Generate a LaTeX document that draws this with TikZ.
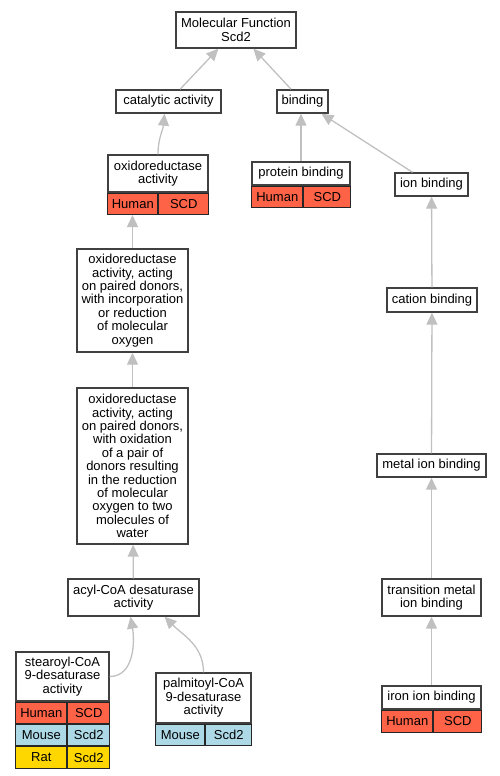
\documentclass[tikz,border=0pt]{standalone}
\usepackage{fontspec}
\setmainfont{Liberation Sans}
\usetikzlibrary{arrows.meta,positioning}
\definecolor{humanred}{HTML}{FF6347}
\definecolor{mouseblue}{HTML}{ADD8E6}
\definecolor{ratgold}{HTML}{FFD700}
\definecolor{edgegray}{HTML}{C0C0C0}
\definecolor{framegray}{HTML}{404040}

\begin{document}
\begin{tikzpicture}[
  x=1pt, y=-1pt,
  font=\fontsize{13}{13.4}\selectfont,
  term/.style={draw=framegray, line width=1.4pt, fill=white, align=center,
               inner sep=0pt},
  cell/.style={draw=black!85, line width=1pt, inner sep=0pt, anchor=north west,
               minimum height=21.3pt},
  arr/.style={-{Triangle[length=12pt, width=11pt, fill=edgegray]}, draw=edgegray,
              line width=1.3pt}
]
\useasboundingbox (0,0) rectangle (500,776);

% top of the tree
\node[term, minimum width=120pt, minimum height=36pt] (mf) at (236,30) {Molecular Function\\Scd2};
\node[term, minimum width=105pt, minimum height=23pt] (cat) at (168.5,101.5) {catalytic activity};
\node[term, minimum width=51pt, minimum height=23pt] (bind) at (302.5,101.5) {binding};

% catalytic branch
\node[term, minimum width=100pt, minimum height=37pt] (oxr) at (158,173.5) {oxidoreductase\\activity};
\node[cell, fill=humanred, minimum width=50pt] (oxrH) at (oxr.south west) {Human};
\node[cell, fill=humanred, minimum width=50pt] (oxrS) at (oxrH.north east) {SCD};
\node[term, minimum width=111pt, minimum height=103pt] (oxpa) at (132.5,300.5)
  {oxidoreductase\\activity, acting\\on paired donors,\\with incorporation\\or reduction\\of molecular\\oxygen};
\node[term, minimum width=111pt, minimum height=156pt] (oxpb) at (132.5,466)
  {oxidoreductase\\activity, acting\\on paired donors,\\with oxidation\\of a pair of\\donors resulting\\in the reduction\\of molecular\\oxygen to two\\molecules of\\water};
\node[term, minimum width=131pt, minimum height=37pt] (acyl) at (133.5,597.5) {acyl-CoA desaturase\\activity};

\node[term, minimum width=93pt, minimum height=49pt] (stear) at (62.5,676.5) {stearoyl-CoA\\9-desaturase\\activity};
\node[cell, fill=humanred, minimum width=51pt] (stearH) at (stear.south west) {Human};
\node[cell, fill=humanred, minimum width=42pt] (stearS) at (stearH.north east) {SCD};
\node[cell, fill=mouseblue, minimum width=51pt] (stearM) at (stearH.south west) {Mouse};
\node[cell, fill=mouseblue, minimum width=42pt] (stearMs) at (stearM.north east) {Scd2};
\node[cell, fill=ratgold, minimum width=51pt] (stearR) at (stearM.south west) {Rat};
\node[cell, fill=ratgold, minimum width=42pt] (stearRs) at (stearR.north east) {Scd2};

\node[term, minimum width=95pt, minimum height=50pt] (palm) at (203.5,698) {palmitoyl-CoA\\9-desaturase\\activity};
\node[cell, fill=mouseblue, minimum width=49pt] (palmM) at (palm.south west) {Mouse};
\node[cell, fill=mouseblue, minimum width=46pt] (palmMs) at (palmM.north east) {Scd2};

% binding branch
\node[term, minimum width=98pt, minimum height=23pt] (prot) at (301,173.5) {protein binding};
\node[cell, fill=humanred, minimum width=51pt] (protH) at (prot.south west) {Human};
\node[cell, fill=humanred, minimum width=47pt] (protS) at (protH.north east) {SCD};
\node[term, minimum width=73pt, minimum height=23pt] (ion) at (431.5,184.5) {ion binding};
\node[term, minimum width=90pt, minimum height=24pt] (cation) at (432,300) {cation binding};
\node[term, minimum width=109pt, minimum height=23pt] (metal) at (431.5,465.5) {metal ion binding};
\node[term, minimum width=99pt, minimum height=37pt] (trans) at (431.5,597.5) {transition metal\\ion binding};
\node[term, minimum width=99pt, minimum height=23pt] (iron) at (431.5,697.5) {iron ion binding};
\node[cell, fill=humanred, minimum width=51pt, minimum height=22pt] (ironH) at (iron.south west) {Human};
\node[cell, fill=humanred, minimum width=48pt, minimum height=22pt] (ironS) at (ironH.north east) {SCD};

% is_a edges
\draw[arr] (cat) -- (mf);
\draw[arr] (bind) -- (mf);
\draw[arr] (oxr.north) to[out=90, in=-95] ([xshift=-4pt]cat.south);
\draw[arr] (prot.north) -- (prot.north |- bind.south);
\draw[arr] (ion) -- (bind);
\draw[arr] (oxpa.north) -- (oxpa.north |- oxrH.south);
\draw[arr] (oxpb) -- (oxpa);
\draw[arr] (acyl) -- (oxpb);
\draw[arr] (stear.east) to[out=0, in=-80] ([xshift=-3pt]acyl.south);
\draw[arr] (palm.north) to[out=90, in=-45] ([xshift=31pt]acyl.south);
\draw[arr] (cation) -- (ion);
\draw[arr] (metal) -- (cation);
\draw[arr] (trans) -- (metal);
\draw[arr] (iron) -- (trans);
\end{tikzpicture}
\end{document}
